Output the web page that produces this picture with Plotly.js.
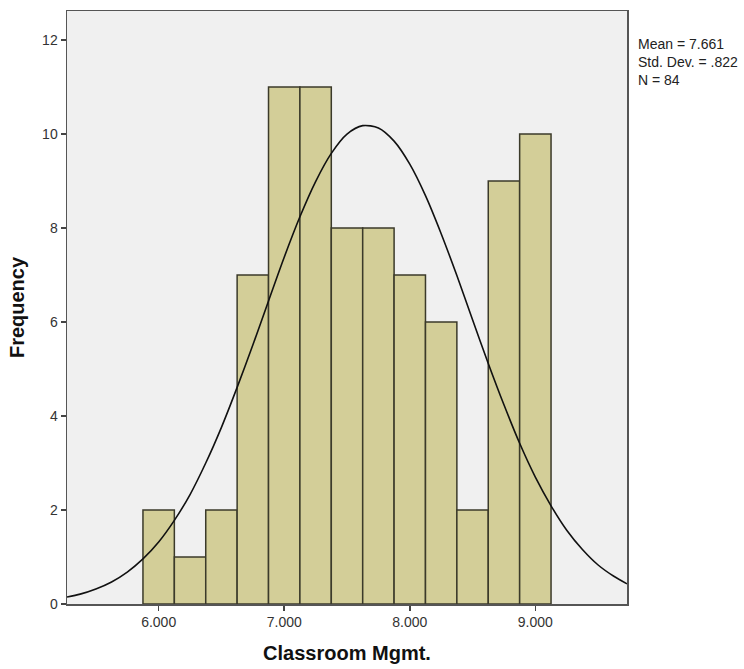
<!DOCTYPE html>
<html>
<head>
<meta charset="utf-8">
<script src="https://cdn.plot.ly/plotly-3.0.1.min.js"></script>
<style>html,body{margin:0;padding:0;background:#fff;}#chart{width:744px;height:669px;}</style>
</head>
<body>
<div id="chart"></div>
<script>
// Histogram bins (centres) and frequencies
const binCenters = [6.0, 6.25, 6.5, 6.75, 7.0, 7.25, 7.5, 7.75, 8.0, 8.25, 8.5, 8.75, 9.0];
const frequencies = [2, 1, 2, 7, 11, 11, 8, 8, 7, 6, 2, 9, 10];
const binWidth = 0.25;

// Normal curve
const curveX = [5.27, 5.375, 5.5, 5.625, 5.75, 5.875, 6.0, 6.125, 6.25, 6.375, 6.5, 6.625, 6.75, 6.875,
                7.0, 7.125, 7.25, 7.375, 7.5, 7.625, 7.75, 7.875, 8.0, 8.125, 8.25, 8.375, 8.5, 8.625,
                8.75, 8.875, 9.0, 9.125, 9.25, 9.375, 9.5, 9.625, 9.73];
const curveY = [0.15, 0.21, 0.32, 0.47, 0.68, 0.96, 1.32, 1.78, 2.33, 3.00, 3.76, 4.61, 5.51, 6.45,
                7.38, 8.24, 8.99, 9.59, 10.0, 10.18, 10.13, 9.85, 9.36, 8.69, 7.88, 6.99, 6.05, 5.12,
                4.24, 3.42, 2.70, 2.09, 1.57, 1.16, 0.83, 0.59, 0.43];

// Axis ticks
const xTickVals = [6, 7, 8, 9];
const xTickText = ["6.000", "7.000", "8.000", "9.000"];
const yTickVals = [0, 2, 4, 6, 8, 10, 12];

const statsLines = ["Mean = 7.661", "Std. Dev. = .822", "N = 84"];

const traces = [
  {
    type: 'bar',
    x: binCenters,
    y: frequencies,
    width: binCenters.map(() => binWidth),
    marker: {color: '#d3ce98', line: {color: '#3b3a2a', width: 1.5}},
    hoverinfo: 'x+y'
  },
  {
    type: 'scatter',
    mode: 'lines',
    x: curveX,
    y: curveY,
    line: {color: '#111111', width: 1.6, shape: 'spline', smoothing: 0.8},
    hoverinfo: 'skip'
  }
];

const layout = {
  width: 744,
  height: 669,
  margin: {l: 67, r: 117, t: 11, b: 65},
  paper_bgcolor: '#ffffff',
  plot_bgcolor: '#f0f0f0',
  showlegend: false,
  bargap: 0,
  font: {family: 'Liberation Sans, Arial, sans-serif', color: '#222'},
  xaxis: {
    range: [5.27, 9.73],
    tickvals: xTickVals,
    ticktext: xTickText,
    ticks: 'outside',
    ticklen: 5,
    tickwidth: 1.5,
    tickcolor: '#444',
    showgrid: false,
    zeroline: false,
    showline: true,
    linecolor: '#555',
    linewidth: 1.5,
    mirror: true,
    tickfont: {size: 14, color: '#333'},
    title: {text: 'Classroom Mgmt.', font: {size: 20, color: '#111', weight: 'bold'}, standoff: 16}
  },
  yaxis: {
    range: [0, 12.62],
    tickvals: yTickVals,
    ticks: 'outside',
    ticklen: 5,
    tickwidth: 1.5,
    tickcolor: '#444',
    showgrid: false,
    zeroline: false,
    showline: true,
    linecolor: '#555',
    linewidth: 1.5,
    mirror: true,
    tickfont: {size: 14, color: '#333'},
    title: {text: 'Frequency', font: {size: 20, color: '#111', weight: 'bold'}, standoff: 12}
  },
  annotations: [{
    xref: 'paper', yref: 'paper',
    x: 1.016, y: 0.962,
    xanchor: 'left', yanchor: 'top',
    align: 'left',
    showarrow: false,
    text: statsLines.join('<br>'),
    font: {size: 14, color: '#222'}
  }]
};

Plotly.newPlot('chart', traces, layout, {displayModeBar: false, staticPlot: true});
</script>
</body>
</html>
